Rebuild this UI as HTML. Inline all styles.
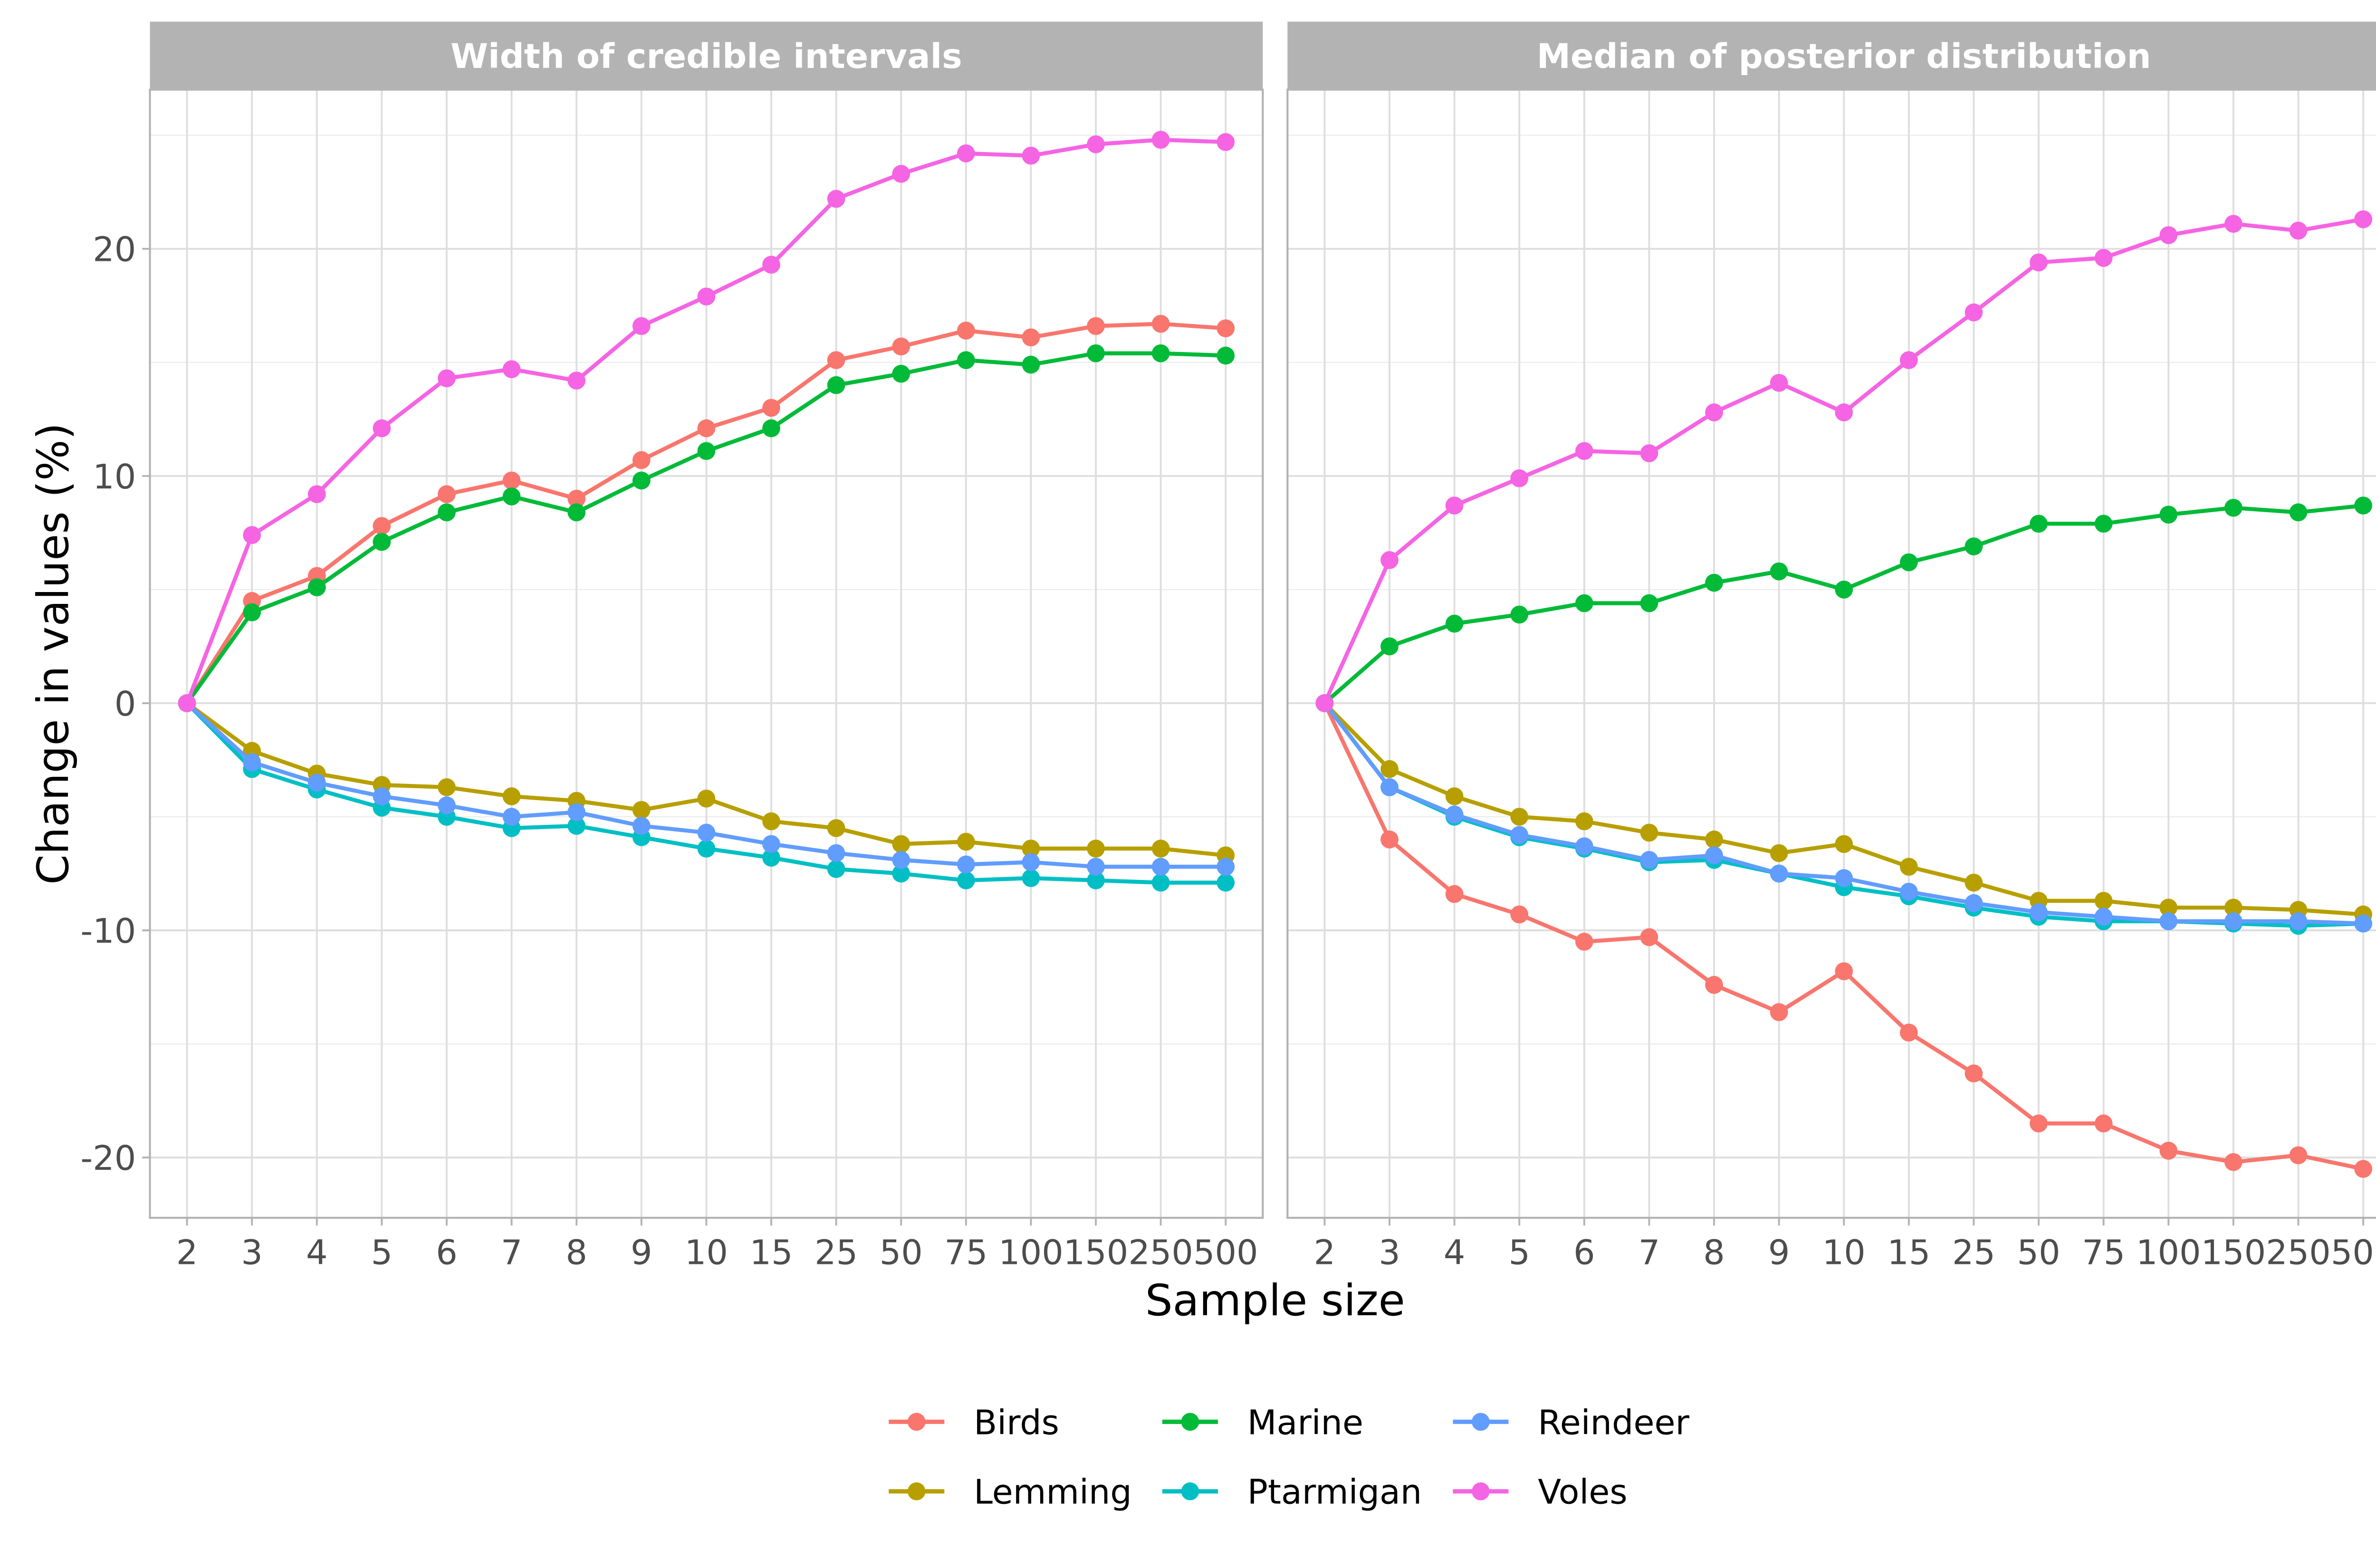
<!DOCTYPE html>
<html><head><meta charset="utf-8"><style>
html,body{margin:0;padding:0;background:#fff}
svg{display:block;font-family:"DejaVu Sans","Liberation Sans",sans-serif}
</style></head><body>
<svg id="chart" width="5100" height="3300" viewBox="0 0 1568 1014.6" preserveAspectRatio="none" xmlns="http://www.w3.org/2000/svg">
<rect x="0" y="0" width="1568" height="1015" fill="#fff"/>
<g id="panels"></g>
<text x="0" y="0" transform="translate(44,423) rotate(-90)" text-anchor="middle" font-size="28" fill="#000">Change in values (%)</text>
<text x="825" y="851" text-anchor="middle" font-size="28" fill="#000">Sample size</text>
<g id="legend"></g>
</svg>
<script>
const categories=["2","3","4","5","6","7","8","9","10","15","25","50","75","100","150","250","500"];
const seriesNames=["Birds","Lemming","Marine","Ptarmigan","Reindeer","Voles"];
const yTicks=[-20,-10,0,10,20];
const yMinor=[-15,-5,5,15,25];
const panelTitles=["Width of credible intervals","Median of posterior distribution"];
const widthBirds=[0,4.5,5.6,7.8,9.2,9.8,9.0,10.7,12.1,13.0,15.1,15.7,16.4,16.1,16.6,16.7,16.5];
const widthLemming=[0,-2.1,-3.1,-3.6,-3.7,-4.1,-4.3,-4.7,-4.2,-5.2,-5.5,-6.2,-6.1,-6.4,-6.4,-6.4,-6.7];
const widthMarine=[0,4.0,5.1,7.1,8.4,9.1,8.4,9.8,11.1,12.1,14.0,14.5,15.1,14.9,15.4,15.4,15.3];
const widthPtarmigan=[0,-2.9,-3.8,-4.6,-5.0,-5.5,-5.4,-5.9,-6.4,-6.8,-7.3,-7.5,-7.8,-7.7,-7.8,-7.9,-7.9];
const widthReindeer=[0,-2.6,-3.5,-4.1,-4.5,-5.0,-4.8,-5.4,-5.7,-6.2,-6.6,-6.9,-7.1,-7.0,-7.2,-7.2,-7.2];
const widthVoles=[0,7.4,9.2,12.1,14.3,14.7,14.2,16.6,17.9,19.3,22.2,23.3,24.2,24.1,24.6,24.8,24.7];
const medianBirds=[0,-6.0,-8.4,-9.3,-10.5,-10.3,-12.4,-13.6,-11.8,-14.5,-16.3,-18.5,-18.5,-19.7,-20.2,-19.9,-20.5];
const medianLemming=[0,-2.9,-4.1,-5.0,-5.2,-5.7,-6.0,-6.6,-6.2,-7.2,-7.9,-8.7,-8.7,-9.0,-9.0,-9.1,-9.3];
const medianMarine=[0,2.5,3.5,3.9,4.4,4.4,5.3,5.8,5.0,6.2,6.9,7.9,7.9,8.3,8.6,8.4,8.7];
const medianPtarmigan=[0,-3.7,-5.0,-5.9,-6.4,-7.0,-6.9,-7.5,-8.1,-8.5,-9.0,-9.4,-9.6,-9.6,-9.7,-9.8,-9.7];
const medianReindeer=[0,-3.7,-4.9,-5.8,-6.3,-6.9,-6.7,-7.5,-7.7,-8.3,-8.8,-9.2,-9.4,-9.6,-9.6,-9.6,-9.7];
const medianVoles=[0,6.3,8.7,9.9,11.1,11.0,12.8,14.1,12.8,15.1,17.2,19.4,19.6,20.6,21.1,20.8,21.3];

const colors=["#F8766D","#B79F00","#00BA38","#00BFC4","#619CFF","#F564E3"];
const panelData=[[widthBirds,widthLemming,widthMarine,widthPtarmigan,widthReindeer,widthVoles],
 [medianBirds,medianLemming,medianMarine,medianPtarmigan,medianReindeer,medianVoles]];
const NS="http://www.w3.org/2000/svg";
function mk(tag,attrs,parent){const e=document.createElementNS(NS,tag);for(const k in attrs)e.setAttribute(k,attrs[k]);parent.appendChild(e);return e;}
const panelsG=document.getElementById('panels');
const PT=58,PB=788,STRIPT=14;
const panelX=[[97,817],[833,1553]];
function yScale(v){return 455-v*14.7;}
panelX.forEach((px,pi)=>{
 const [x0,x1]=px;
 const xScale=i=>x0+24+i*(x1-x0-48)/(categories.length-1);
 const g=mk('g',{},panelsG);
 
 
 mk('rect',{x:x0,y:PT,width:x1-x0,height:PB-PT,fill:'#fff'},g);
 yMinor.forEach(v=>{const l=mk('line',{x1:x0,x2:x1,y1:yScale(v),y2:yScale(v),stroke:'#ececec','stroke-width':0.7},g);
  });
 yTicks.forEach(v=>{const l=mk('line',{x1:x0,x2:x1,y1:yScale(v),y2:yScale(v),stroke:'#dedede','stroke-width':1.2},g);
  });
 categories.forEach((c,i)=>{const l=mk('line',{x1:xScale(i),x2:xScale(i),y1:PT,y2:PB,stroke:'#dedede','stroke-width':1.2},g);
  
  mk('line',{x1:xScale(i),x2:xScale(i),y1:PB,y2:PB+5,stroke:'#b3b3b3','stroke-width':1.2},g);
  const t=mk('text',{x:xScale(i),y:818,'text-anchor':'middle','font-size':22,fill:'#4d4d4d'},g);t.textContent=c;
  });
 if(pi===0){yTicks.forEach(v=>{
  mk('line',{x1:x0-5,x2:x0,y1:yScale(v),y2:yScale(v),stroke:'#b3b3b3','stroke-width':1.2},g);
  const t=mk('text',{x:x0-9,y:yScale(v)+8,'text-anchor':'end','font-size':22,fill:'#4d4d4d'},g);t.textContent=v;
  });}
 panelData[pi].forEach((arr,si)=>{
  const pts=arr.map((v,i)=>xScale(i)+','+yScale(v)).join(' ');
  const pl=mk('polyline',{points:pts,fill:'none',stroke:colors[si],'stroke-width':2.6},g);
  
  arr.forEach((v,i)=>{const c=mk('circle',{cx:xScale(i),cy:yScale(v),r:5.8,fill:colors[si]},g);
   });
 });
 mk('rect',{x:x0,y:PT,width:x1-x0,height:PB-PT,fill:'none',stroke:'#b3b3b3','stroke-width':1.3},g);
 const s=mk('rect',{x:x0,y:STRIPT,width:x1-x0,height:PT-STRIPT,fill:'#b3b3b3'},g);
 
 const st=mk('text',{x:(x0+x1)/2,y:44,'text-anchor':'middle','font-size':22,'font-weight':'bold',fill:'#fff'},g);
 st.textContent=panelTitles[pi];
});
const lg=document.getElementById('legend');
const legPos=[[575,920],[575,965],[752,920],[752,965],[940,920],[940,965]];
seriesNames.forEach((n,si)=>{
 const [lx,ly]=legPos[si];
 const g=mk('g',{},lg);
 
 mk('line',{x1:lx,x2:lx+36,y1:ly,y2:ly,stroke:colors[si],'stroke-width':2.8},g);
 mk('circle',{cx:lx+18,cy:ly,r:5.8,fill:colors[si]},g);
 const t=mk('text',{x:lx+55,y:ly+8,'font-size':22,fill:'#000'},g);t.textContent=n;
});
</script>
</body></html>
